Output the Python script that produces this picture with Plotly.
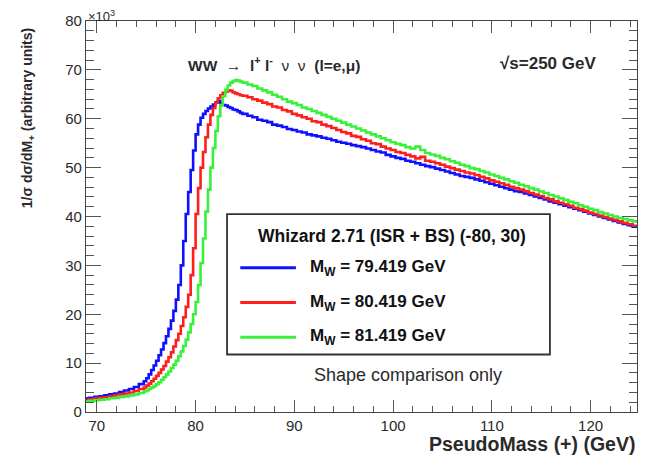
import numpy as np
import plotly.graph_objects as go

# Histogram binning (GeV): 0.5 GeV bins in the tails, 0.25 GeV bins across the Jacobian edge
BIN_EDGES = np.concatenate([
    np.arange(68.75, 74.75, 0.5),
    np.arange(74.75, 84.75, 0.25),
    np.arange(84.75, 124.76, 0.5),
])

series_names = ["M<sub>W</sub> = 79.419 GeV", "M<sub>W</sub> = 80.419 GeV", "M<sub>W</sub> = 81.419 GeV"]
series_colors = ["#1010ff", "#ff1e1e", "#3af03a"]

# Bin contents (x10^3), one value per bin of BIN_EDGES
mw_79419 = [
    # 68.75 - 74.75
    2.8, 2.9, 3.1, 3.2, 3.4, 3.6, 3.8, 4.1, 4.4, 4.7, 5.1, 5.7,
    # 74.75 - 84.75
    6.3, 6.9, 7.7, 8.6, 9.5, 10.5, 11.6, 12.8, 14.1, 15.5,
    17.0, 18.7, 20.7, 23.0, 26.0, 30.0, 35.0, 40.5, 45.0, 49.5,
    53.5, 56.8, 58.8, 60.2, 61.0, 61.6, 62.1, 62.5, 62.9, 63.3,
    63.6, 63.2, 62.8, 62.7, 62.4, 62.2, 61.9, 61.8, 61.5, 61.2,
    # 84.75 - 124.75
    61.0, 60.6, 60.3, 59.8, 59.6, 59.3, 58.8, 58.6,
    58.3, 57.9, 57.7, 57.4, 57.2, 56.8, 56.6, 56.4, 56.1, 55.9,
    55.6, 55.3, 55.1, 54.9, 54.6, 54.4, 54.2, 53.9, 53.6, 53.3,
    53.1, 52.6, 52.3, 52.0, 51.8, 51.4, 51.2, 50.9, 50.6, 50.3,
    50.1, 49.8, 49.5, 49.2, 48.9, 48.6, 48.3, 48.1, 47.9, 47.6,
    47.3, 47.0, 46.7, 46.4, 46.1, 45.8, 45.5, 45.2, 45.0, 44.7,
    44.4, 44.1, 43.8, 43.5, 43.1, 42.8, 42.5, 42.2, 41.9, 41.6,
    41.3, 41.0, 40.6, 40.3, 40.0, 39.7, 39.4, 39.1, 38.8, 38.5,
    38.2, 37.9,
]
mw_80419 = [
    # 68.75 - 74.75
    2.5, 2.6, 2.8, 2.9, 3.0, 3.2, 3.4, 3.6, 3.8, 4.0, 4.3, 4.7,
    # 74.75 - 84.75
    5.0, 5.4, 5.8, 6.3, 6.8, 7.4, 8.0, 8.7, 9.4, 10.3,
    11.2, 12.2, 13.4, 14.7, 16.0, 17.6, 19.4, 21.5, 24.0, 28.0,
    33.5, 40.5, 45.8, 50.0, 53.2, 56.2, 58.8, 60.8, 62.2, 63.3,
    64.2, 64.8, 65.3, 65.6, 65.8, 65.7, 65.4, 65.2, 65.0, 64.8,
    # 84.75 - 124.75
    64.7, 64.4, 64.0, 63.7, 63.3, 63.0, 62.5, 62.3,
    61.8, 61.5, 61.0, 60.7, 60.3, 60.0, 59.5, 59.3, 58.8, 58.5,
    58.1, 57.7, 57.3, 57.0, 56.5, 56.3, 55.8, 55.5, 55.0, 54.8,
    54.3, 53.9, 53.6, 53.2, 53.0, 52.6, 52.3, 51.9, 52.2, 51.4,
    51.2, 50.9, 50.6, 50.2, 49.9, 49.6, 49.3, 49.0, 48.8, 48.5,
    48.1, 47.8, 47.4, 47.1, 46.8, 46.5, 46.1, 45.8, 45.5, 45.2,
    44.8, 44.5, 44.2, 43.8, 43.5, 43.1, 42.8, 42.5, 42.2, 41.8,
    41.5, 41.2, 40.8, 40.5, 40.2, 39.9, 39.6, 39.3, 39.0, 38.7,
    38.4, 38.1,
]
mw_81419 = [
    # 68.75 - 74.75
    2.2, 2.3, 2.4, 2.5, 2.6, 2.8, 2.9, 3.1, 3.2, 3.4, 3.6, 3.9,
    # 74.75 - 84.75
    4.2, 4.4, 4.7, 5.0, 5.3, 5.7, 6.1, 6.6, 7.1, 7.7,
    8.3, 9.0, 9.7, 10.5, 11.4, 12.4, 13.5, 14.8, 16.3, 18.0,
    20.0, 22.5, 26.0, 30.5, 35.5, 41.0, 45.5, 50.0, 54.0, 57.5,
    60.5, 62.8, 64.6, 65.9, 66.8, 67.4, 67.7, 67.9, 67.8, 67.6,
    # 84.75 - 124.75
    67.4, 67.0, 66.7, 66.2, 65.8, 65.4, 64.9, 64.5,
    64.0, 63.5, 63.2, 62.8, 62.3, 62.0, 61.6, 61.2, 60.8, 60.4,
    60.0, 59.6, 59.2, 58.8, 58.4, 58.0, 57.6, 57.2, 56.8, 56.4,
    56.0, 55.6, 55.2, 54.9, 54.6, 54.2, 53.9, 54.3, 53.6, 53.0,
    52.7, 52.4, 52.0, 51.7, 51.3, 51.0, 50.6, 50.3, 49.9, 49.7,
    49.3, 49.0, 48.6, 48.3, 47.9, 47.6, 47.2, 46.9, 46.5, 46.2,
    45.8, 45.5, 45.1, 44.8, 44.4, 44.1, 43.7, 43.4, 43.0, 42.7,
    42.3, 42.0, 41.6, 41.3, 40.9, 40.6, 40.3, 40.0, 39.7, 39.5,
    39.2, 39.0,
]
all_series = [mw_79419, mw_80419, mw_81419]

x_ticks = [70, 80, 90, 100, 110, 120]
y_ticks = [0, 10, 20, 30, 40, 50, 60, 70, 80]

X_RANGE = [68.9, 124.7]
Y_RANGE = [0, 80]

FONT = "Liberation Sans, Arial, Helvetica, sans-serif"
TXT = "#2a2a2a"

fig = go.Figure()

for name, color, vals in zip(series_names, series_colors, all_series):
    if len(vals) != len(BIN_EDGES) - 1:
        raise ValueError(f"{name}: {len(vals)} values for {len(BIN_EDGES) - 1} bins")
    # step outline: each bin drawn flat from its lower edge to the next edge
    fig.add_trace(go.Scatter(
        x=BIN_EDGES, y=list(vals) + [vals[-1]],
        mode="lines", line=dict(color=color, width=2.6, shape="hv"),
        name=name, showlegend=False, hoverinfo="skip",
    ))

axis_common = dict(
    showgrid=False, zeroline=False, showline=True, linecolor="#444", linewidth=1.2,
    mirror="allticks", ticks="inside", tickcolor="#555", tickwidth=1.2,
    tickfont=dict(family=FONT, size=15, color=TXT),
)
fig.update_xaxes(range=X_RANGE, tickvals=x_ticks, ticklen=12,
                 minor=dict(ticks="inside", dtick=2, tick0=70, ticklen=6, tickcolor="#555", tickwidth=1.2),
                 **axis_common)
fig.update_yaxes(range=Y_RANGE, tickvals=y_ticks, ticklen=15,
                 minor=dict(ticks="inside", dtick=2, tick0=0, ticklen=8, tickcolor="#555", tickwidth=1.2),
                 **axis_common)


def label(text, x, y, xanchor="left", yanchor="middle", size=14, color=TXT, **kw):
    return dict(text=text, x=x, y=y, xref="paper", yref="paper", xanchor=xanchor,
                yanchor=yanchor, showarrow=False, font=dict(family=FONT, size=size, color=color), **kw)


annotations = [
    # axis titles
    label("<b>PseudoMass (+) (GeV)</b>", 1.0, -0.081, xanchor="right", size=19.5),
    label("<b>1/σ dσ/dM<sub>+</sub> (arbitrary units)</b>", -0.105, 0.987,
          xanchor="center", yanchor="top", textangle=-90),
    label("×10<sup>3</sup>", 0.0, 1.013, size=13),
    # process and energy labels
    label("<b>WW  →  l<sup>+</sup> l<sup>-</sup></b>  ν  ν  <b>(l=e,μ)</b>", 0.181, 0.891, size=15.5),
    label("<b>√s=250 GeV</b>", 0.747, 0.891, size=17),
    label("Shape comparison only", 0.584, 0.094, xanchor="center", size=18),
    # legend header
    label("<b>Whizard 2.71 (ISR + BS) (-80, 30)</b>", 0.556, 0.451, xanchor="center",
          size=17.5, color="#111"),
]

shapes = [
    dict(type="rect", xref="paper", yref="paper", x0=0.256, x1=0.842, y0=0.147, y1=0.506,
         line=dict(color="#333", width=1.8), fillcolor="white", layer="above"),
]
entry_y = [0.369, 0.280, 0.191]
for name, color, yy in zip(series_names, series_colors, entry_y):
    shapes.append(dict(type="line", xref="paper", yref="paper", x0=0.280, x1=0.381, y0=yy, y1=yy,
                       line=dict(color=color, width=3), layer="above"))
    annotations.append(label("<b>" + name + "</b>", 0.402, yy, size=17, color="#111"))

fig.update_layout(
    width=654, height=459,
    margin=dict(l=86, r=17, t=19, b=47),
    paper_bgcolor="white", plot_bgcolor="white",
    font=dict(family=FONT, color=TXT),
    annotations=annotations, shapes=shapes,
    showlegend=False,
)

fig.write_html("out.html")
